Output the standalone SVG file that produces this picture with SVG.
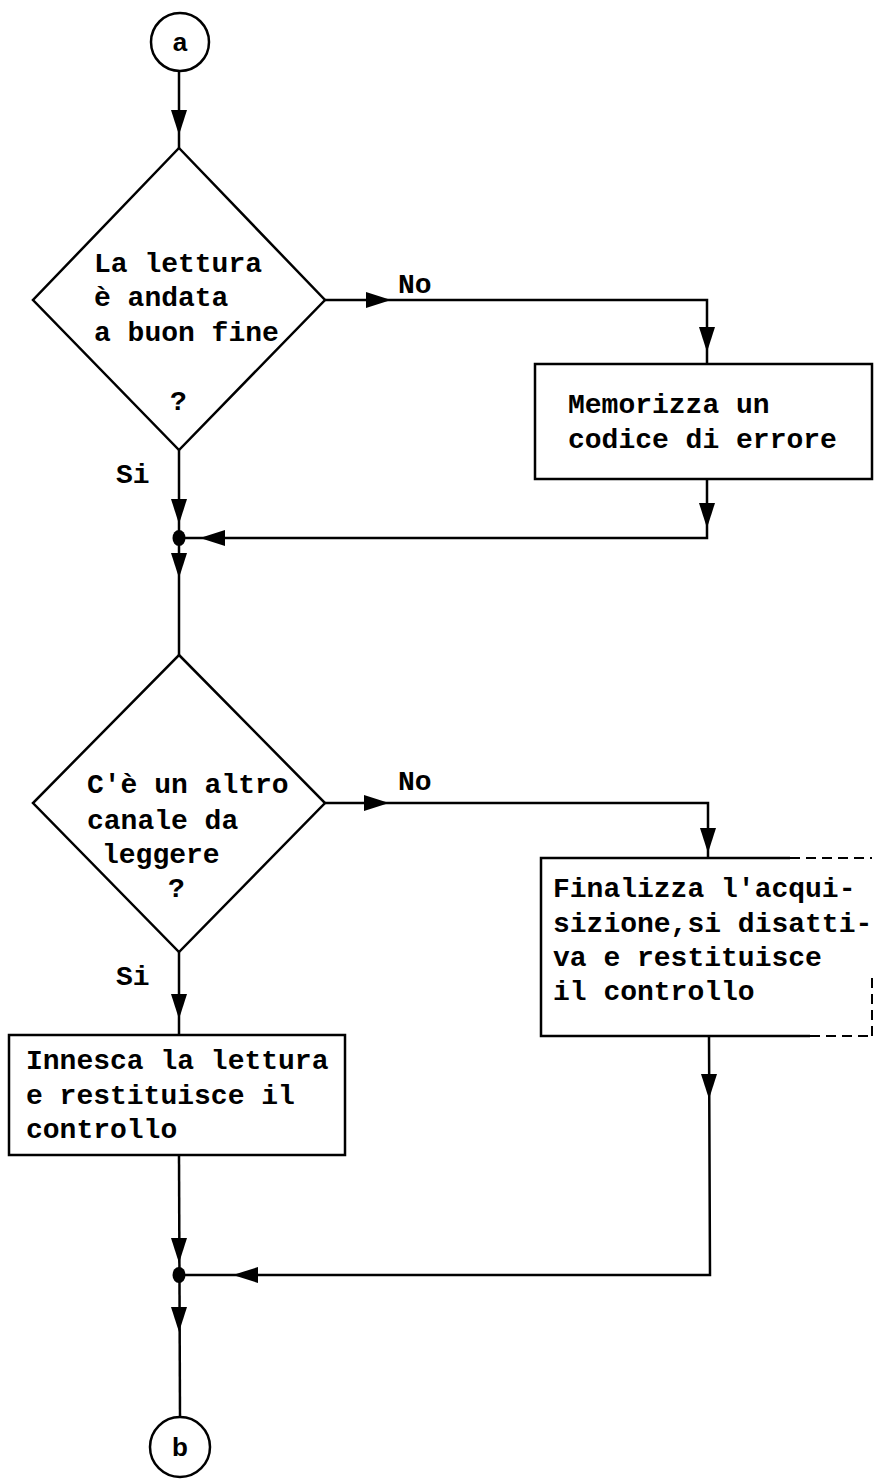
<svg xmlns="http://www.w3.org/2000/svg" xmlns:xlink="http://www.w3.org/1999/xlink" width="874" height="1480" viewBox="0 0 874 1480">
  <style>
    .shape { fill: #fff; stroke: #000; stroke-width: 2.5; }
    .edge { fill: none; stroke: #000; stroke-width: 2.5; }
    .dash { fill: none; stroke: #000; stroke-width: 2; stroke-dasharray: 10 6; }
    .wire { fill: none; stroke: #000; stroke-width: 2.5; }
    .txt { font-family: "Liberation Mono", "DejaVu Sans Mono", monospace; font-weight: bold; font-size: 28px; fill: #000; }
    .conn { font-family: "Liberation Sans", Arial, sans-serif; font-weight: bold; font-size: 26px; fill: #000; }
    .head { fill: #000; }
  </style>
  <defs>
    <!-- arrowhead pointing down, tip at origin -->
    <path id="ah" class="head" d="M0,0 L-8,-25 L8,-25 Z"/>
  </defs>

  <!-- connectors -->
  <g id="connectors">
    <line class="wire" x1="179" y1="72" x2="179" y2="148"/>
    <use xlink:href="#ah" transform="translate(179,135)"/>

    <!-- decision 1: No branch -->
    <polyline class="wire" points="325,300 707,300 707,364"/>
    <use xlink:href="#ah" transform="translate(391,300) rotate(-90)"/>
    <use xlink:href="#ah" transform="translate(707,352)"/>

    <!-- error box back to main line -->
    <polyline class="wire" points="707,479 707,538 179,538"/>
    <use xlink:href="#ah" transform="translate(707,528)"/>
    <use xlink:href="#ah" transform="translate(200,538) rotate(90)"/>

    <!-- decision 1: Si branch -->
    <line class="wire" x1="179" y1="450" x2="179" y2="655"/>
    <use xlink:href="#ah" transform="translate(179,524)"/>
    <ellipse cx="179" cy="538" rx="6.5" ry="8" class="head"/>
    <use xlink:href="#ah" transform="translate(179,578)"/>

    <!-- decision 2: No branch -->
    <polyline class="wire" points="325,803 708,803 708,858"/>
    <use xlink:href="#ah" transform="translate(389,803) rotate(-90)"/>
    <use xlink:href="#ah" transform="translate(708,853)"/>

    <!-- decision 2: Si branch -->
    <line class="wire" x1="179" y1="952" x2="179" y2="1035"/>
    <use xlink:href="#ah" transform="translate(179,1019)"/>

    <!-- finalize box back to main line -->
    <polyline class="wire" points="709,1036 710,1275 179,1275"/>
    <use xlink:href="#ah" transform="translate(709,1099)"/>
    <use xlink:href="#ah" transform="translate(233,1275) rotate(90)"/>

    <!-- trigger box down to exit -->
    <line class="wire" x1="179" y1="1155" x2="180" y2="1417"/>
    <use xlink:href="#ah" transform="translate(179,1263)"/>
    <ellipse cx="179" cy="1275" rx="6.5" ry="8" class="head"/>
    <use xlink:href="#ah" transform="translate(179,1332)"/>
  </g>

  <!-- entry connector -->
  <g id="start-a">
    <circle class="shape" cx="180" cy="42" r="29"/>
    <text class="conn" x="180" y="51" text-anchor="middle">a</text>
  </g>

  <g id="decision-read-ok">
    <polygon class="shape" points="179,148 325,300 179,450 33,300"/>
    <text class="txt" x="94" y="272">La lettura</text>
    <text class="txt" x="94" y="306">è andata</text>
    <text class="txt" x="94" y="341">a buon fine</text>
    <text class="txt" x="170" y="410">?</text>
  </g>
  <text class="txt" x="398" y="293">No</text>
  <text class="txt" x="116" y="483">Si</text>

  <g id="store-error">
    <rect class="shape" x="535" y="364" width="337" height="115"/>
    <text class="txt" x="568" y="413">Memorizza un</text>
    <text class="txt" x="568" y="448">codice di errore</text>
  </g>

  <g id="decision-more-channels">
    <polygon class="shape" points="179,655 325,803 179,952 33,803"/>
    <text class="txt" x="87" y="793">C'è un altro</text>
    <text class="txt" x="87" y="829">canale da</text>
    <text class="txt" x="102" y="863">leggere</text>
    <text class="txt" x="168" y="897">?</text>
  </g>
  <text class="txt" x="398" y="790">No</text>
  <text class="txt" x="116" y="985">Si</text>

  <g id="finalize">
    <!-- border: solid on the left, bottom and most of the top; faint on the right -->
    <polyline class="edge" points="790,858 541,858 541,1036 810,1036"/>
    <line class="dash" x1="790" y1="858" x2="872" y2="858"/>
    <line class="dash" x1="810" y1="1036" x2="872" y2="1036"/>
    <line class="dash" x1="872" y1="978" x2="872" y2="1036"/>
    <text class="txt" x="553" y="897">Finalizza l'acqui-</text>
    <text class="txt" x="553" y="932">sizione,si disatti-</text>
    <text class="txt" x="553" y="966">va e restituisce</text>
    <text class="txt" x="553" y="1000">il controllo</text>
  </g>

  <g id="trigger-read">
    <rect class="shape" x="9" y="1035" width="336" height="120"/>
    <text class="txt" x="26" y="1069">Innesca la lettura</text>
    <text class="txt" x="26" y="1104">e restituisce il</text>
    <text class="txt" x="26" y="1138">controllo</text>
  </g>

  <!-- exit connector -->
  <g id="end-b">
    <circle class="shape" cx="180" cy="1447" r="30"/>
    <text class="conn" x="180" y="1456" text-anchor="middle">b</text>
  </g>
</svg>
